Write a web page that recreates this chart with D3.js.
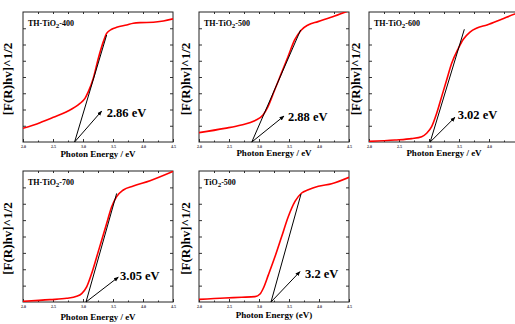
<!DOCTYPE html>
<html><head><meta charset="utf-8">
<script src="https://cdn.jsdelivr.net/npm/d3@7"></script>
<style>body{margin:0;background:#fff}svg{display:block}</style>
</head><body>
<script>
const xTicks = [2.0, 2.5, 3.0, 3.5, 4.0, 4.5];
const xTickLabels = ["2.0", "2.5", "3.0", "3.5", "4.0", "4.5"];

const e400 = [2.0,2.283,2.506,2.728,2.95,3.033,3.089,3.172,3.256,3.339,3.394,3.478,3.561,3.728,3.839,3.95,4.172,4.339,4.5];
const k400 = [0.105,0.149,0.19,0.233,0.297,0.336,0.387,0.49,0.644,0.772,0.836,0.867,0.882,0.9,0.913,0.918,0.921,0.931,0.947];

const e500 = [2.0,2.428,2.706,2.928,3.067,3.15,3.261,3.372,3.483,3.594,3.706,3.817,3.983,4.261,4.5];
const k500 = [0.072,0.105,0.131,0.164,0.208,0.272,0.4,0.528,0.656,0.785,0.862,0.9,0.926,0.969,1.01];

const e600 = [2.0,2.433,2.711,2.878,2.961,3.044,3.128,3.211,3.294,3.378,3.489,3.572,3.683,3.8,3.967,4.211,4.433,4.5];
const k600 = [0.005,0.015,0.026,0.041,0.067,0.118,0.221,0.349,0.477,0.605,0.72,0.79,0.846,0.877,0.9,0.944,0.985,0.995];

const e700 = [2.0,2.45,2.728,2.894,2.978,3.061,3.144,3.228,3.311,3.394,3.478,3.561,3.672,3.839,4.117,4.5];
const k700 = [0.005,0.018,0.028,0.043,0.064,0.115,0.217,0.344,0.472,0.599,0.727,0.804,0.855,0.885,0.926,0.997];

const eP25 = [2.0,2.433,2.711,2.933,3.017,3.072,3.156,3.267,3.378,3.489,3.6,3.711,3.822,3.989,4.211,4.5];
const kP25 = [0.02,0.031,0.036,0.041,0.061,0.105,0.207,0.347,0.5,0.653,0.768,0.832,0.857,0.883,0.903,0.952];

const titles = ["TH-TiO|2|-400", "TH-TiO|2|-500", "TH-TiO|2|-600", "TH-TiO|2|-700", "TiO|2|-500"];
const gaps = [2.86, 2.88, 3.02, 3.05, 3.2];
const gapLabels = ["2.86 eV", "2.88 eV", "3.02 eV", "3.05 eV", "3.2 eV"];
const tangentTop = [[3.394,0.823],[3.694,0.862],[3.589,0.867],[3.561,0.829],[3.7,0.824]];
const arrowTip = [[3.311,0.238],[3.417,0.2],[3.433,0.19],[3.589,0.19],[3.683,0.232]];
const labelPos = [[3.394,0.195],[3.483,0.164],[3.478,0.174],[3.617,0.17],[3.767,0.18]];
const xLabels = ["Photon Energy / eV","Photon Energy / eV","Photon Energy / eV","Photon Energy / eV","Photon Energy (eV)"];
const yLabel = "[F(R)hv]^1/2";

const energies = [e400, e500, e600, e700, eP25];
const values = [k400, k500, k600, k700, kP25];

const W = 515, H = 324;
const svg = d3.select("body").append("svg").attr("width", W).attr("height", H);
const defs = svg.append("defs");
defs.append("marker").attr("id","arr").attr("viewBox","0 0 10 10").attr("refX",9).attr("refY",5)
  .attr("markerWidth",5).attr("markerHeight",5).attr("orient","auto")
  .append("path").attr("d","M0,1 L10,5 L0,9 Z").attr("fill","#000");

const frames = [
  {x:23, y:12, w:150, h:130, ylx:12, xly:157},
  {x:199, y:12, w:150, h:130, ylx:190, xly:156},
  {x:369, y:12, w:150, h:130, ylx:360, xly:156},
  {x:23, y:171, w:150, h:131, ylx:12, xly:320},
  {x:199, y:171, w:150, h:131, ylx:190, xly:318}
];
const serif = "'Liberation Serif','Times New Roman',serif";

frames.forEach((f, i) => {
  const g = svg.append("g").attr("transform", `translate(${f.x},${f.y})`);
  const x = d3.scaleLinear().domain([2.0, 4.5]).range([0, f.w]);
  const y = d3.scaleLinear().domain([0, 1]).range([f.h, 0]);
  defs.append("clipPath").attr("id","c"+i).append("rect").attr("width",f.w).attr("height",f.h);

  // bottom axis (labels only where they fit inside the window)
  const visTicks = xTicks.filter(v => f.x + x(v) + 4 <= W);
  const xa = d3.axisBottom(x).tickValues(visTicks).tickSizeInner(-3).tickSizeOuter(0)
    .tickFormat(d => xTickLabels[xTicks.indexOf(d)]).tickPadding(3);
  const gx = g.append("g").attr("transform", `translate(0,${f.h})`).call(xa);
  gx.select(".domain").remove();
  gx.selectAll("text").attr("font-size", 4).attr("font-family", serif).attr("font-weight","bold").attr("fill","#333");
  const xm = d3.axisBottom(x).tickValues(d3.range(2.25, 4.5, 0.5)).tickSizeInner(-1.5).tickSizeOuter(0).tickFormat("");
  const gxm = g.append("g").attr("transform", `translate(0,${f.h})`).call(xm);
  gxm.select(".domain").remove();
  // top axis ticks
  const xt = d3.axisTop(x).tickValues(d3.range(2.25, 4.5, 0.25)).tickSizeInner(-2).tickSizeOuter(0).tickFormat("");
  const gxt = g.append("g").call(xt);
  gxt.select(".domain").remove();

  // left and right axes (ticks only)
  const yt = d3.range(0.125, 1, 0.125);
  const ya = d3.axisLeft(y).tickValues(yt).tickSizeInner(-3).tickSizeOuter(0).tickFormat("");
  const gy = g.append("g").call(ya); gy.select(".domain").remove();
  const yr = d3.axisRight(y).tickValues(yt).tickSizeInner(-3).tickSizeOuter(0).tickFormat("");
  const gyr = g.append("g").attr("transform", `translate(${f.w},0)`).call(yr); gyr.select(".domain").remove();
  g.selectAll(".tick line").attr("stroke", "#333");

  g.append("rect").attr("width", f.w).attr("height", f.h).attr("fill","none").attr("stroke","#222").attr("stroke-width",1);

  const pts = energies[i].map((e, j) => [e, values[i][j]]);
  const line = d3.line().x(d => x(d[0])).y(d => y(d[1])).curve(d3.curveMonotoneX);
  g.append("path").datum(pts).attr("d", line).attr("fill","none").attr("stroke","#f00")
    .attr("stroke-width",1.6).attr("clip-path",`url(#c${i})`);

  // tangent
  g.append("line").attr("x1", x(gaps[i])).attr("y1", y(0)).attr("x2", x(tangentTop[i][0])).attr("y2", y(tangentTop[i][1]))
    .attr("stroke","#000").attr("stroke-width",1);
  // arrow
  g.append("line").attr("x1", x(gaps[i])).attr("y1", y(0)).attr("x2", x(arrowTip[i][0])).attr("y2", y(arrowTip[i][1]))
    .attr("stroke","#000").attr("stroke-width",1).attr("marker-end","url(#arr)");
  g.append("text").attr("x", x(labelPos[i][0])).attr("y", y(labelPos[i][1]))
    .attr("font-family", serif).attr("font-weight","bold").attr("font-size", 12.5).text(gapLabels[i]);

  // title with subscript
  const parts = titles[i].split("|");
  const t = g.append("text").attr("x", 5).attr("y", 14).attr("font-family", serif).attr("font-weight","bold").attr("font-size", 8);
  t.append("tspan").text(parts[0]);
  t.append("tspan").attr("dy", 2).attr("font-size", 7).text(parts[1]);
  t.append("tspan").attr("dy", -2).text(parts[2]);

  // axis labels
  svg.append("text").attr("x", f.x + f.w/2).attr("y", f.xly).attr("text-anchor","middle")
    .attr("font-family", serif).attr("font-weight","bold").attr("font-size", 9).text(xLabels[i]);
  svg.append("text").attr("transform", `translate(${f.ylx},${f.y + f.h/2 + 2}) rotate(-90)`).attr("text-anchor","middle")
    .attr("font-family", serif).attr("font-weight","bold").attr("font-size", 13).text(yLabel);
});
</script>
</body></html>
